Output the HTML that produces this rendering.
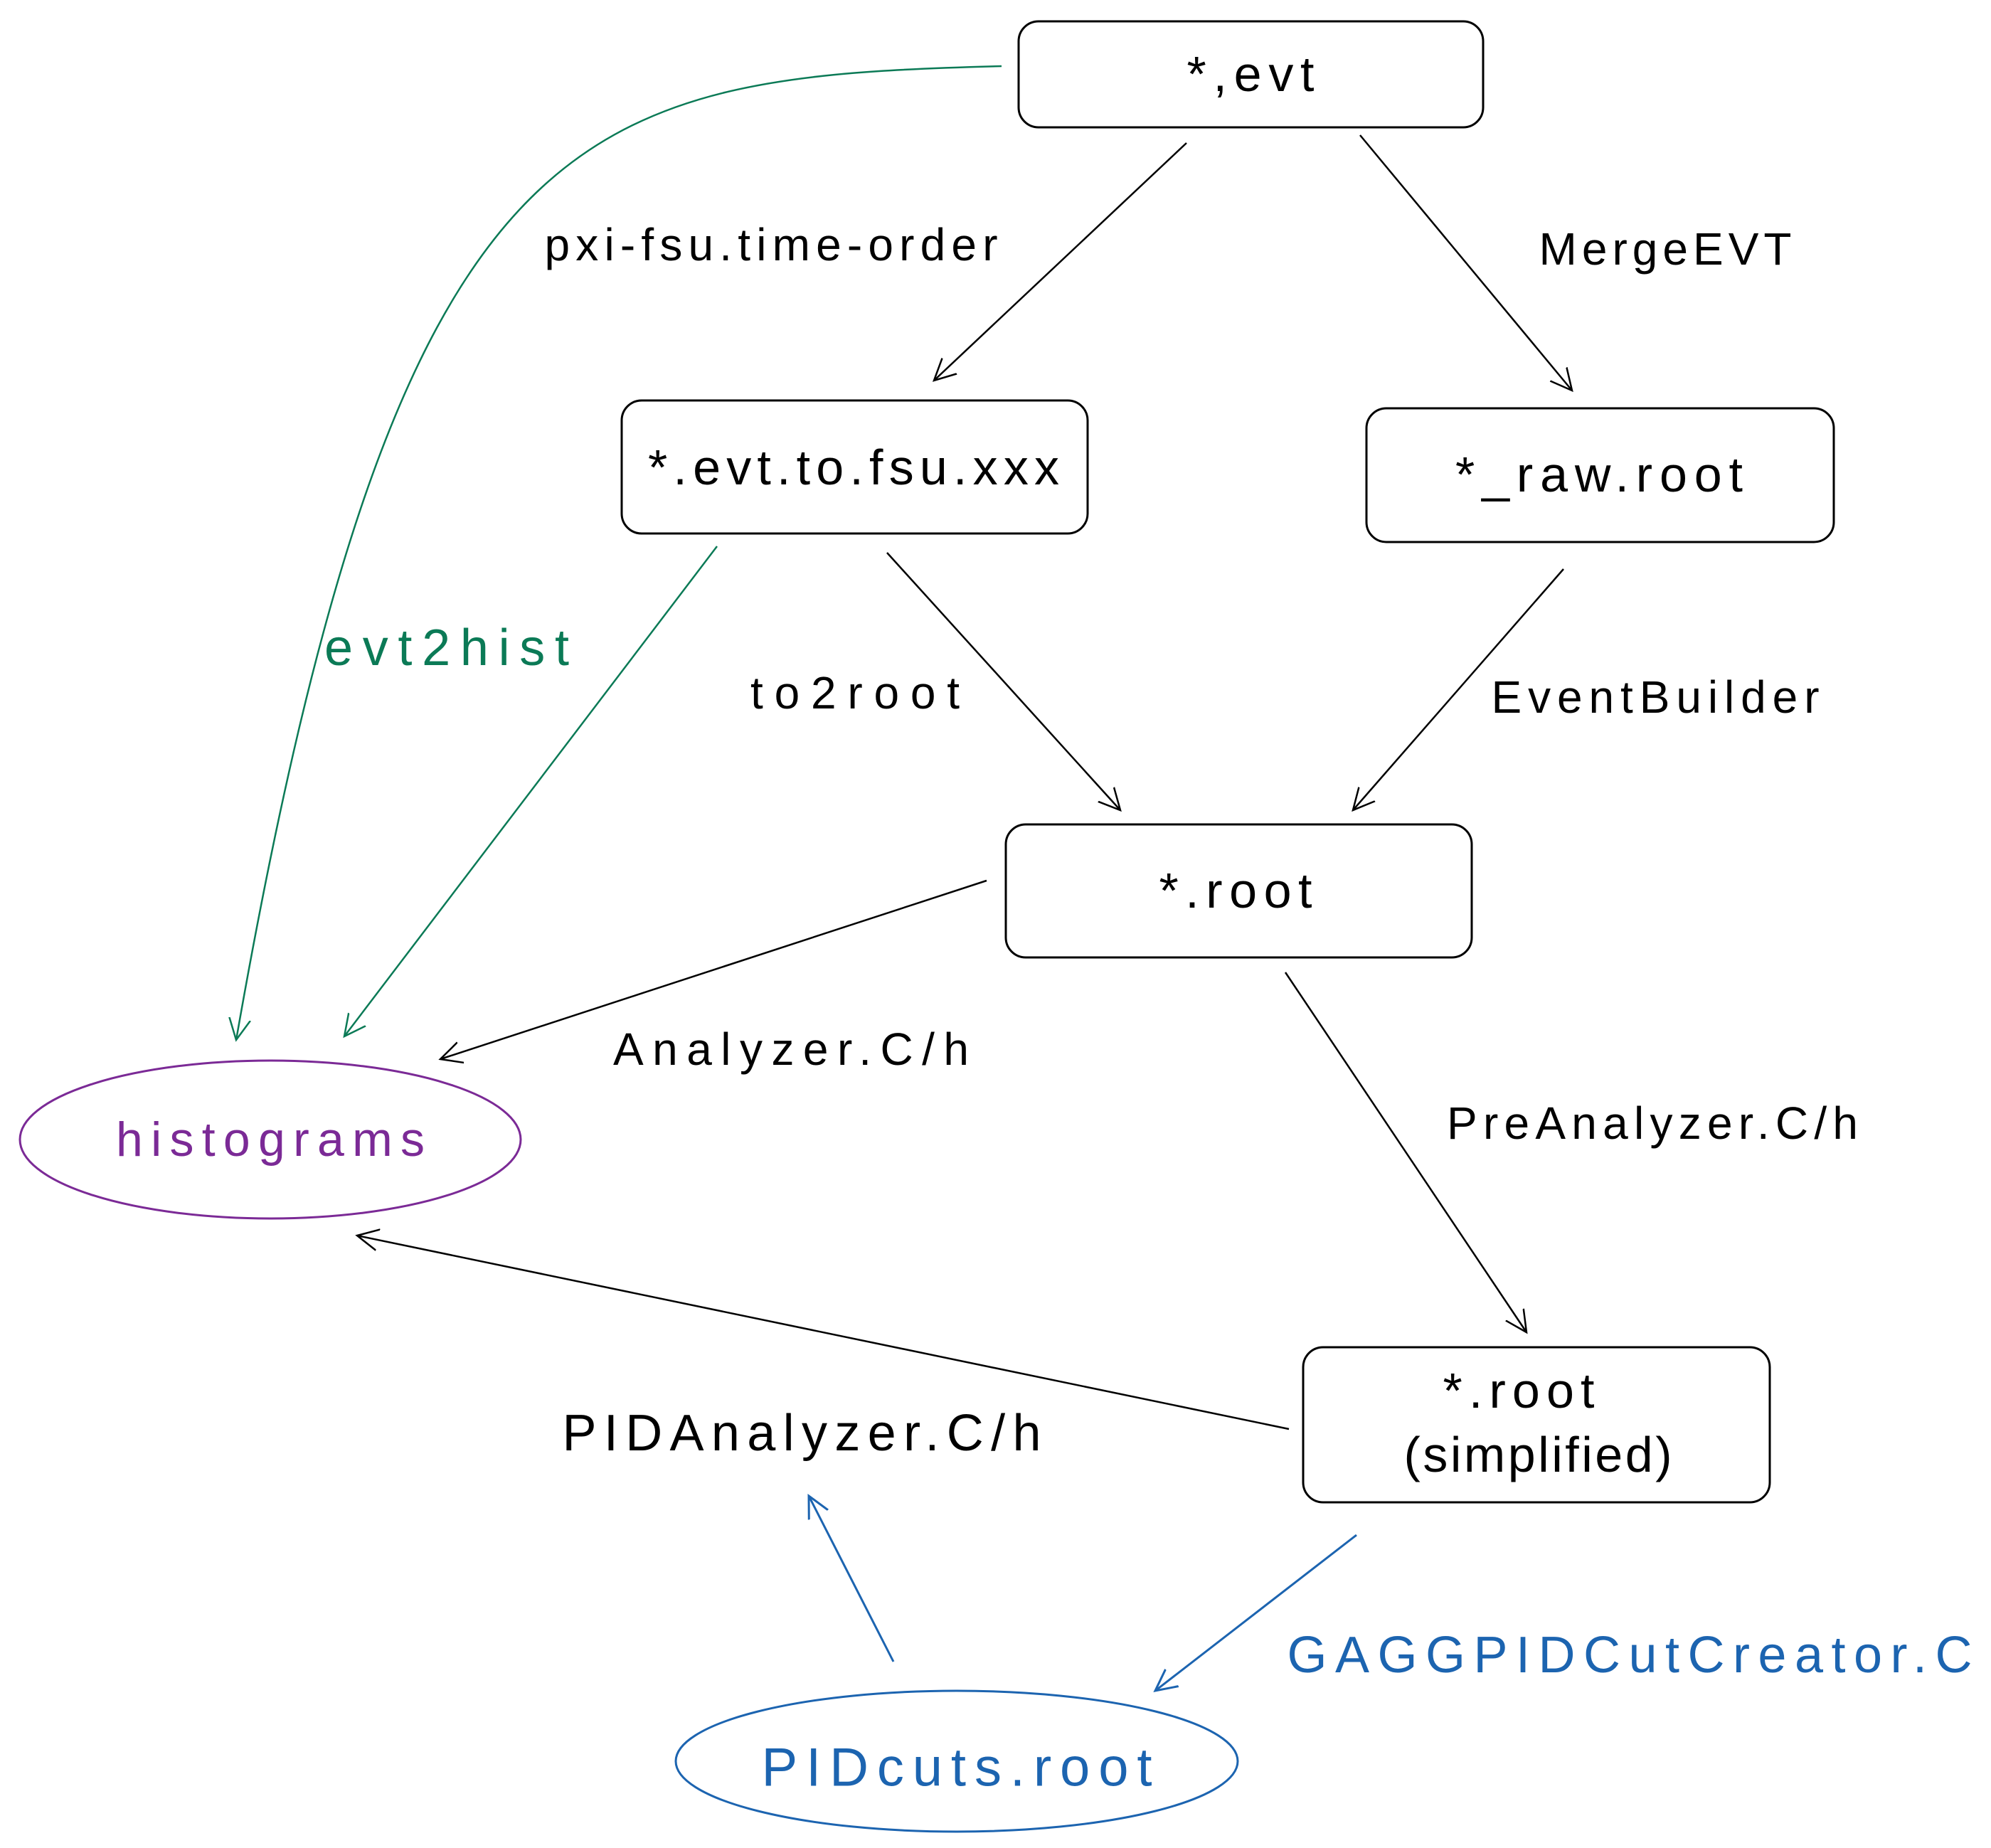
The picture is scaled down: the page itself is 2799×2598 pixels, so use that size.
<!DOCTYPE html>
<html><head><meta charset="utf-8"><style>
html,body{margin:0;padding:0;background:#fff}
svg{display:block}
text{font-family:"Liberation Sans",sans-serif;text-anchor:middle;dominant-baseline:central}
</style></head><body>
<svg width="2799" height="2598" viewBox="0 0 2799 2598" xmlns="http://www.w3.org/2000/svg">
<defs>
<marker id="ak" markerWidth="40" markerHeight="40" refX="30" refY="20" orient="auto" markerUnits="userSpaceOnUse"><path d="M0,5 L30,20 L0,35" fill="none" stroke="#000" stroke-width="2.5"/></marker>
<marker id="ag" markerWidth="40" markerHeight="40" refX="30" refY="20" orient="auto" markerUnits="userSpaceOnUse"><path d="M0,5 L30,20 L0,35" fill="none" stroke="#0b7a56" stroke-width="2.5"/></marker>
<marker id="ab" markerWidth="40" markerHeight="40" refX="30" refY="20" orient="auto" markerUnits="userSpaceOnUse"><path d="M0,5 L30,20 L0,35" fill="none" stroke="#1c64b0" stroke-width="3"/></marker>
</defs>
<g fill="none" stroke="#000" stroke-width="3">
<rect x="1432" y="30" width="653" height="149" rx="28"/>
<rect x="874" y="563" width="655" height="187" rx="28"/>
<rect x="1921" y="574" width="657" height="188" rx="28"/>
<rect x="1414" y="1159" width="655" height="187" rx="28"/>
<rect x="1832" y="1894" width="656" height="218" rx="28"/>
</g>
<ellipse cx="380" cy="1602" rx="352" ry="111" fill="none" stroke="#7b2a96" stroke-width="3"/>
<ellipse cx="1345" cy="2476" rx="395" ry="99" fill="none" stroke="#1c64b0" stroke-width="3"/>
<g fill="none" stroke="#000" stroke-width="2.5">
<line x1="1668" y1="201" x2="1313" y2="535" marker-end="url(#ak)"/>
<line x1="1912" y1="190" x2="2210" y2="549" marker-end="url(#ak)"/>
<line x1="1247" y1="777" x2="1575" y2="1139" marker-end="url(#ak)"/>
<line x1="2198" y1="800" x2="1902" y2="1139" marker-end="url(#ak)"/>
<line x1="1387" y1="1238" x2="619" y2="1489" marker-end="url(#ak)"/>
<line x1="1807" y1="1367" x2="2146" y2="1873" marker-end="url(#ak)"/>
<line x1="1812" y1="2009" x2="502" y2="1737" marker-end="url(#ak)"/>
</g>
<g fill="none" stroke="#0b7a56" stroke-width="2.5">
<path d="M1408,93 C807,108 560,160 332,1462" marker-end="url(#ag)"/>
<line x1="1008" y1="768" x2="484" y2="1457" marker-end="url(#ag)"/>
</g>
<g fill="none" stroke="#1c64b0" stroke-width="3">
<line x1="1907" y1="2158" x2="1624" y2="2377" marker-end="url(#ab)"/>
<line x1="1256" y1="2336" x2="1137" y2="2103" marker-end="url(#ab)"/>
</g>
<g font-size="70" fill="#000">
<text x="1758" y="104" textLength="179" lengthAdjust="spacing">*,evt</text>
<text x="1200" y="657" textLength="578" lengthAdjust="spacing">*.evt.to.fsu.xxx</text>
<text x="2248" y="667" textLength="404" lengthAdjust="spacing">*_raw.root</text>
<text x="1737" y="1252" textLength="215" lengthAdjust="spacing">*.root</text>
<text x="2135" y="1955" textLength="213" lengthAdjust="spacing">*.root</text>
<text x="2162" y="2045" textLength="377" lengthAdjust="spacing">(simplified)</text>
</g>
<g font-size="64" fill="#000">
<text x="1084" y="344" textLength="637" lengthAdjust="spacing">pxi-fsu.time-order</text>
<text x="2341" y="350" textLength="355" lengthAdjust="spacing">MergeEVT</text>
<text x="1202" y="974" textLength="294" lengthAdjust="spacing">to2root</text>
<text x="2327" y="980" textLength="461" lengthAdjust="spacing">EventBuilder</text>
<text x="1112" y="1475" textLength="500" lengthAdjust="spacing">Analyzer.C/h</text>
<text x="2323" y="1579" textLength="578" lengthAdjust="spacing">PreAnalyzer.C/h</text>
<text x="1127" y="2015" font-size="72" textLength="673" lengthAdjust="spacing">PIDAnalyzer.C/h</text>
</g>
<text x="628" y="911" font-size="72" fill="#0b7a56" textLength="344" lengthAdjust="spacing">evt2hist</text>
<text x="380" y="1602" font-size="68" fill="#7b2a96" textLength="434" lengthAdjust="spacing">histograms</text>
<text x="2291" y="2327" font-size="72" fill="#1c64b0" textLength="963" lengthAdjust="spacing">GAGGPIDCutCreator.C</text>
<text x="1345" y="2485" font-size="76" fill="#1c64b0" textLength="549" lengthAdjust="spacing">PIDcuts.root</text>
</svg>
</body></html>
